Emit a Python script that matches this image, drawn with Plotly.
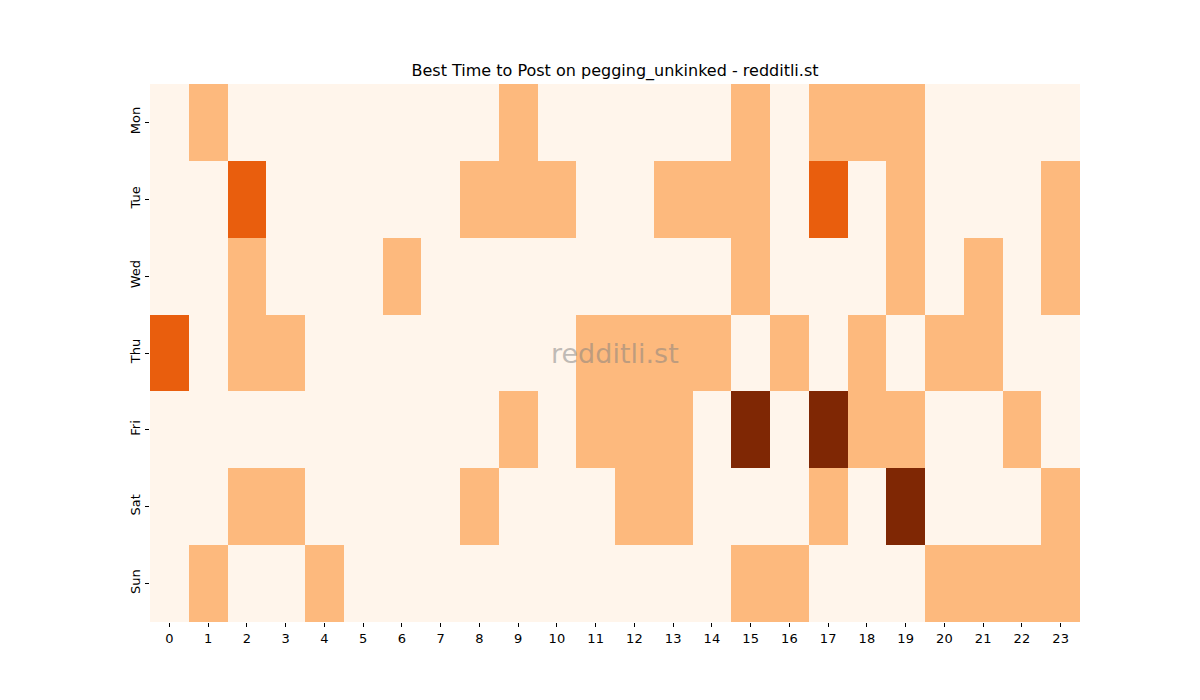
import plotly.graph_objects as go

# posting activity level per weekday and hour (0 = none, 3 = most)
days = ["Mon", "Tue", "Wed", "Thu", "Fri", "Sat", "Sun"]
hours = list(range(24))

mon = [0, 1, 0, 0, 0, 0, 0, 0, 0, 1, 0, 0, 0, 0, 0, 1, 0, 1, 1, 1, 0, 0, 0, 0]
tue = [0, 0, 2, 0, 0, 0, 0, 0, 1, 1, 1, 0, 0, 1, 1, 1, 0, 2, 0, 1, 0, 0, 0, 1]
wed = [0, 0, 1, 0, 0, 0, 1, 0, 0, 0, 0, 0, 0, 0, 0, 1, 0, 0, 0, 1, 0, 1, 0, 1]
thu = [2, 0, 1, 1, 0, 0, 0, 0, 0, 0, 0, 1, 1, 1, 1, 0, 1, 0, 1, 0, 1, 1, 0, 0]
fri = [0, 0, 0, 0, 0, 0, 0, 0, 0, 1, 0, 1, 1, 1, 0, 3, 0, 3, 1, 1, 0, 0, 1, 0]
sat = [0, 0, 1, 1, 0, 0, 0, 0, 1, 0, 0, 0, 1, 1, 0, 0, 0, 1, 0, 3, 0, 0, 0, 1]
sun = [0, 1, 0, 0, 1, 0, 0, 0, 0, 0, 0, 0, 0, 0, 0, 1, 1, 0, 0, 0, 1, 1, 1, 1]

z = [mon, tue, wed, thu, fri, sat, sun]

# Oranges-like steps
colors = ["#fff5eb", "#fdb97d", "#e95e0d", "#7f2704"]
cscale = []
for i, c in enumerate(colors):
    cscale.append([i / 4, c])
    cscale.append([(i + 1) / 4, c])

fig = go.Figure(go.Heatmap(
    z=z, x=hours, y=days,
    zmin=-0.5, zmax=3.5,
    colorscale=cscale,
    showscale=False,
    hoverongaps=False,
))

font = "DejaVu Sans"
# page body has an 8px margin, so shift everything up/left by 8
fig.update_layout(
    width=1200, height=700,
    paper_bgcolor="white", plot_bgcolor="white",
    margin=dict(l=142, r=128, t=76, b=86),
    font=dict(family=font, size=13, color="black"),
    title=dict(text="Best Time to Post on pegging_unkinked - redditli.st",
               x=(142 + 465) / 1200, xanchor="center", y=1 - 62 / 700, yanchor="middle",
               font=dict(size=16, family=font, color="black")),
    showlegend=False,
)
fig.update_xaxes(tickmode="array", tickvals=hours, ticktext=[str(h) for h in hours],
                 ticks="outside", ticklen=4, tickcolor="black",
                 showgrid=False, zeroline=False, showline=False,
                 range=[-0.5, 23.5])
fig.update_yaxes(autorange="reversed", ticks="outside", ticklen=4, tickcolor="black",
                 tickangle=-90, showgrid=False, zeroline=False, showline=False)

fig.add_annotation(text="redditli.st", xref="paper", yref="paper", x=0.5, y=0.5,
                   showarrow=False, font=dict(size=27, family=font,
                                              color="rgba(128,128,128,0.5)"))

fig.write_html("out.html")
